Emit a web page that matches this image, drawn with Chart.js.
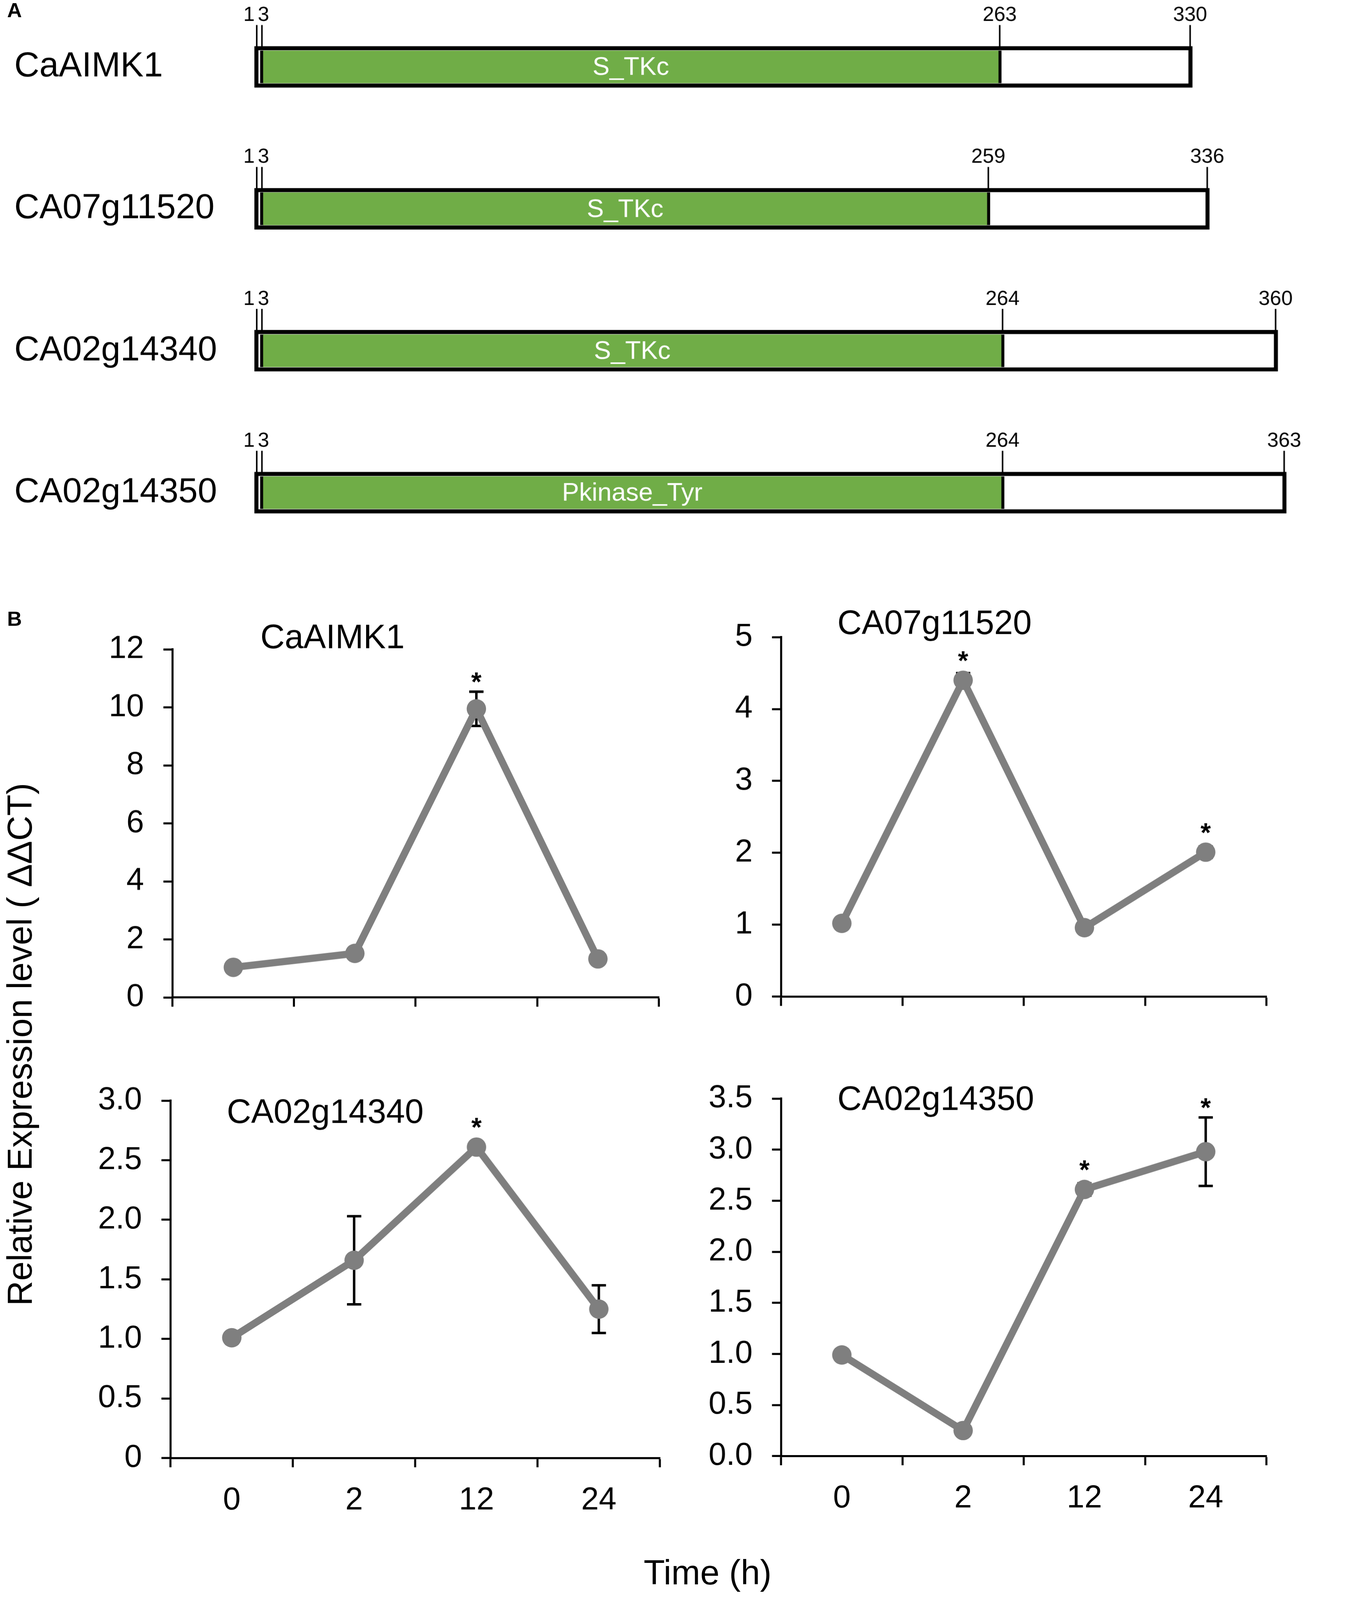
<!DOCTYPE html>
<html lang="en">
<head>
  <meta charset="UTF-8">
  <title>CaAIMK1 domains and expression</title>
  <style>
    html, body {
      margin: 0;
      padding: 0;
      overflow: hidden;
      background: #fff;
    }
    #stage {
      position: absolute;
      left: 0;
      top: 0;
      width: 1280px;
      height: 1568px;
      transform-origin: 0 0;
      font-family: 'Liberation Sans', Arial, Helvetica, sans-serif;
      color: #000;
    }
    .box { position: absolute; }
    .panel-label {
      position: absolute;
      left: 7px;
      font-weight: bold;
      font-size: 20px;
      line-height: 20px;
    }
    .axis-title {
      position: absolute;
      font-size: 34px;
      line-height: 34px;
      white-space: nowrap;
    }
  </style>
</head>
<body>
  <div id="stage">
    <div class="panel-label" style="top:0px">A</div>
    <div class="panel-label" style="top:596px">B</div>

    <div class="box" id="boxA" style="left:0px;top:-4px;width:1280px;height:556px"><canvas id="cA"></canvas></div>

    <div class="box" id="boxTL"><canvas id="cTL"></canvas></div>
    <div class="box" id="boxTR"><canvas id="cTR"></canvas></div>
    <div class="box" id="boxBL"><canvas id="cBL"></canvas></div>
    <div class="box" id="boxBR"><canvas id="cBR"></canvas></div>

    <div class="axis-title" style="left:19px;top:1023px;transform:translate(-50%,-50%) rotate(-90deg)">Relative Expression level ( ΔΔCT)</div>
    <div class="axis-title" style="left:693px;top:1523px;transform:translateX(-50%)">Time (h)</div>
  </div>

  <script src="https://cdn.jsdelivr.net/npm/chart.js"></script>
  <script>
    // panel A: protein domain structure
    const proteins = ['CaAIMK1', 'CA07g11520', 'CA02g14340', 'CA02g14350'];
    const proteinLength = [330, 336, 360, 363];
    const domainStart = [3, 3, 3, 3];
    const domainEnd = [263, 259, 264, 264];
    const domainName = ['S_TKc', 'S_TKc', 'S_TKc', 'Pkinase_Tyr'];

    // panel B: relative expression after treatment
    const timePoints = ['0', '2', '12', '24'];
    const genes = ['CaAIMK1', 'CA07g11520', 'CA02g14340', 'CA02g14350'];

    const exprAIMK1 = [1.04, 1.52, 9.95, 1.33];
    const errAIMK1 = [0.05, 0.05, 0.59, 0.08];
    const starAIMK1 = ['', '', '*', ''];
    const yTicksAIMK1 = ['0', '2', '4', '6', '8', '10', '12'];

    const expr11520 = [1.02, 4.40, 0.96, 2.01];
    const err11520 = [0.04, 0.10, 0.03, 0.08];
    const star11520 = ['', '*', '', '*'];
    const yTicks11520 = ['0', '1', '2', '3', '4', '5'];

    const expr14340 = [1.01, 1.66, 2.61, 1.25];
    const err14340 = [0.02, 0.37, 0.04, 0.20];
    const star14340 = ['', '', '*', ''];
    const yTicks14340 = ['0', '0.5', '1.0', '1.5', '2.0', '2.5', '3.0'];

    const expr14350 = [0.99, 0.25, 2.61, 2.98];
    const err14350 = [0.02, 0.03, 0.06, 0.335];
    const star14350 = ['', '', '*', '*'];
    const yTicks14350 = ['0.0', '0.5', '1.0', '1.5', '2.0', '2.5', '3.0', '3.5'];

    // the page is laid out on a 1280 x 1567 stage and scaled to fit the window
    const W = window.innerWidth || 3481, H = window.innerHeight || 4262;
    const S = Math.min(W / 1280, H / 1567.2);
    const DPR = S * (window.devicePixelRatio || 1);
    const FONT = "'Liberation Sans', Arial, Helvetica, sans-serif";
    const GREY = '#7f7f7f';

    document.getElementById('stage').style.transform = 'scale(' + S + ')';
    Chart.defaults.font.family = FONT;
    Chart.defaults.color = '#000';

    // ---------- panel A ----------
    const domainMarks = {
      id: 'domainMarks',
      afterDatasetsDraw(chart) {
        const { ctx, scales: { x, y } } = chart;
        ctx.save();
        proteins.forEach((p, i) => {
          const yc = y.getPixelForValue(i);
          const top = yc - 20;
          const marks = [1, domainStart[i], domainEnd[i], proteinLength[i]];
          const shift = [2, 1.5, -1.5, -2];
          marks.forEach((v, k) => {
            const px = x.getPixelForValue(v) + shift[k];
            ctx.strokeStyle = '#000';
            ctx.lineWidth = 1.5;
            ctx.beginPath();
            ctx.moveTo(px, top - 21);
            ctx.lineTo(px, top + 1);
            ctx.stroke();

            ctx.fillStyle = '#000';
            ctx.font = '20px ' + FONT;
            ctx.textBaseline = 'alphabetic';
            if (k === 0) { ctx.textAlign = 'right'; ctx.fillText(String(v), px - 2, top - 25); }
            else if (k === 1) { ctx.textAlign = 'left'; ctx.fillText(String(v), px - 4, top - 25); }
            else { ctx.textAlign = 'center'; ctx.fillText(String(v), px, top - 25); }
          });

          const mid = (x.getPixelForValue(domainStart[i]) + x.getPixelForValue(domainEnd[i])) / 2;
          ctx.fillStyle = '#fff';
          ctx.font = '25px ' + FONT;
          ctx.textAlign = 'center';
          ctx.textBaseline = 'middle';
          ctx.fillText(domainName[i], mid, yc + 1);
        });
        ctx.restore();
      }
    };

    new Chart(document.getElementById('cA'), {
      type: 'bar',
      data: {
        labels: proteins,
        datasets: [
          {
            data: proteins.map((p, i) => [domainStart[i], domainEnd[i]]),
            backgroundColor: '#70ad47',
            borderColor: '#000',
            borderWidth: { left: 3, right: 3, top: 0, bottom: 0 },
            borderSkipped: false,
            barThickness: 32,
            grouped: false
          },
          {
            data: proteins.map((p, i) => [1, proteinLength[i]]),
            backgroundColor: '#fff',
            borderColor: '#000',
            borderWidth: 4,
            borderSkipped: false,
            barThickness: 40,
            grouped: false
          }
        ]
      },
      options: {
        indexAxis: 'y',
        animation: false,
        responsive: true,
        maintainAspectRatio: false,
        devicePixelRatio: DPR,
        layout: { padding: { left: 14, right: 1, top: 0, bottom: 0 } },
        plugins: { legend: { display: false }, tooltip: { enabled: false } },
        scales: {
          x: { type: 'linear', min: 0, max: 370, display: false },
          y: {
            grid: { display: false },
            border: { display: false },
            ticks: { crossAlign: 'far', padding: 0, color: '#000', font: { size: 34 } },
            afterFit(s) {
              s.width = 232.6;
              s.paddingTop = 0;
              s.paddingBottom = 0;
            }
          }
        }
      },
      plugins: [domainMarks]
    });

    // ---------- panel B ----------
    const YW = 130, PT = 60, PR = 20, XH = 80;

    const panels = [
      { id: 'TL', gene: genes[0], values: exprAIMK1, errors: errAIMK1, stars: starAIMK1, yTicks: yTicksAIMK1,
        yMax: 12, yStep: 2, area: { l: 169, r: 645, t: 636, b: 977 }, title: [255, 635], xLabels: false },
      { id: 'TR', gene: genes[1], values: expr11520, errors: err11520, stars: star11520, yTicks: yTicks11520,
        yMax: 5, yStep: 1, area: { l: 765, r: 1240, t: 624, b: 976 }, title: [820, 621], xLabels: false },
      { id: 'BL', gene: genes[2], values: expr14340, errors: err14340, stars: star14340, yTicks: yTicks14340,
        yMax: 3, yStep: 0.5, area: { l: 167, r: 646, t: 1078, b: 1428 }, title: [222, 1100], xLabels: true },
      { id: 'BR', gene: genes[3], values: expr14350, errors: err14350, stars: star14350, yTicks: yTicks14350,
        yMax: 3.5, yStep: 0.5, area: { l: 765, r: 1240, t: 1076, b: 1426 }, title: [820, 1087], xLabels: true }
    ];

    const errorBars = {
      id: 'errorBars',
      beforeDatasetsDraw(chart, args, opts) {
        const { ctx, scales: { x, y } } = chart;
        const vals = chart.data.datasets[0].data;
        ctx.save();
        ctx.strokeStyle = '#000';
        ctx.lineWidth = 2.4;
        vals.forEach((v, i) => {
          const e = opts.errors[i];
          const px = x.getPixelForValue(i);
          const y1 = y.getPixelForValue(v + e);
          const y2 = y.getPixelForValue(v - e);
          ctx.beginPath();
          ctx.moveTo(px, y1); ctx.lineTo(px, y2);
          ctx.moveTo(px - 7, y1); ctx.lineTo(px + 7, y1);
          ctx.moveTo(px - 7, y2); ctx.lineTo(px + 7, y2);
          ctx.stroke();
        });
        ctx.restore();
      },
      afterDraw(chart, args, opts) {
        const { ctx, scales: { x, y } } = chart;
        const vals = chart.data.datasets[0].data;
        ctx.save();
        ctx.fillStyle = '#000';
        ctx.font = 'bold 26px ' + FONT;
        ctx.textAlign = 'center';
        ctx.textBaseline = 'alphabetic';
        vals.forEach((v, i) => {
          if (!opts.stars[i]) return;
          const px = x.getPixelForValue(i);
          const top = Math.min(y.getPixelForValue(v + opts.errors[i]), y.getPixelForValue(v) - 9.5);
          ctx.fillText(opts.stars[i], px, top - 1);
        });
        ctx.font = '33px ' + FONT;
        ctx.textAlign = 'left';
        ctx.fillText(opts.gene, opts.titleX, opts.titleY);
        ctx.restore();
      }
    };

    panels.forEach(p => {
      const a = p.area;
      const left = a.l - YW, top = a.t - PT;
      const box = document.getElementById('box' + p.id);
      box.style.left = left + 'px';
      box.style.top = top + 'px';
      box.style.width = (a.r - a.l + YW + PR) + 'px';
      box.style.height = (a.b - a.t + PT + XH) + 'px';

      new Chart(document.getElementById('c' + p.id), {
        type: 'line',
        data: {
          labels: timePoints,
          datasets: [{
            data: p.values,
            borderColor: GREY,
            borderWidth: 7,
            pointRadius: 9.5,
            pointBackgroundColor: GREY,
            pointBorderWidth: 0,
            tension: 0,
            clip: false
          }]
        },
        options: {
          animation: false,
          responsive: true,
          maintainAspectRatio: false,
          devicePixelRatio: DPR,
          layout: { padding: { left: 0, top: PT, right: PR, bottom: 0 } },
          plugins: {
            legend: { display: false },
            tooltip: { enabled: false },
            errorBars: { errors: p.errors, stars: p.stars, gene: p.gene, titleX: p.title[0] - left, titleY: p.title[1] - top }
          },
          scales: {
            x: {
              type: 'category',
              offset: true,
              grid: { offset: true, drawOnChartArea: false, drawTicks: true, tickLength: 9, tickWidth: 2, tickColor: '#000' },
              border: { color: '#000', width: 2 },
              ticks: { display: p.xLabels, color: '#000', padding: 14, font: { size: 31 }, maxRotation: 0 },
              afterFit(s) { s.height = XH; }
            },
            y: {
              type: 'linear',
              min: 0,
              max: p.yMax,
              grid: { drawOnChartArea: false, drawTicks: true, tickLength: 9, tickWidth: 2, tickColor: '#000' },
              border: { color: '#000', width: 2 },
              ticks: {
                stepSize: p.yStep,
                color: '#000',
                padding: 19,
                font: { size: 31 },
                callback: (v, i) => p.yTicks[i]
              },
              afterFit(s) { s.width = YW; }
            }
          }
        },
        plugins: [errorBars]
      });
    });
  </script>
</body>
</html>
